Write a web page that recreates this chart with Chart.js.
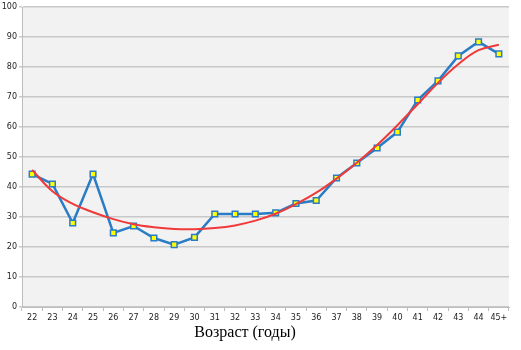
<!DOCTYPE html>
<html>
<head>
<meta charset="utf-8">
<script src="https://cdn.jsdelivr.net/npm/chart.js@4/dist/chart.umd.min.js"></script>
<style>
  html, body { margin: 0; padding: 0; background: #fff; }
  #wrap { width: 521px; height: 350px; position: relative; }
</style>
</head>
<body>
<div id="wrap"><canvas id="ageChart"></canvas></div>
<script>
// age groups (x axis)
var ages = ['22', '23', '24', '25', '26', '27', '28', '29', '30', '31', '32', '33',
            '34', '35', '36', '37', '38', '39', '40', '41', '42', '43', '44', '45+'];
// observed values (blue line with markers)
var observed = [44.3, 41, 28, 44.3, 24.7, 27, 23, 20.8, 23.2, 31, 31, 31,
                31.4, 34.5, 35.5, 43, 48, 53, 58.3, 69, 75.4, 83.7, 88.4, 84.4];
// trend curve (red line)
var trend = [45.7, 38.6, 34.4, 31.6, 29.3, 27.6, 26.6, 26, 25.9, 26.3, 27.2, 28.8,
             31.1, 34.3, 38.1, 42.8, 48.1, 54, 60.6, 67.6, 74.7, 80.9, 85.6, 87.4];
var yTicks = [0, 10, 20, 30, 40, 50, 60, 70, 80, 90, 100];
var xTitle = 'Возраст (годы)';

var plotBg = {
  id: 'plotBg',
  beforeDraw: function (chart) {
    var a = chart.chartArea, ctx = chart.ctx;
    ctx.save();
    ctx.fillStyle = '#f2f2f2';
    ctx.fillRect(a.left, a.top, a.right - a.left, a.bottom - a.top);
    ctx.restore();
  },
  afterDraw: function (chart) {
    var ctx = chart.ctx;
    ctx.save();
    ctx.font = '16px "Liberation Serif", "Times New Roman", serif';
    ctx.fillStyle = '#000';
    ctx.textAlign = 'center';
    ctx.textBaseline = 'middle';
    ctx.fillText(xTitle, 245, 333);
    ctx.restore();
  }
};

var tickFont = { family: 'Verdana, "DejaVu Sans", sans-serif', size: 8, weight: 'normal' };

new Chart(document.getElementById('ageChart').getContext('2d'), {
  type: 'line',
  data: {
    labels: ages,
    datasets: [{
      label: 'trend',
      data: trend,
      borderColor: '#f03a3a',
      borderWidth: 2,
      pointRadius: 0,
      tension: 0.4,
      order: 0
    }, {
      label: 'observed',
      data: observed,
      borderColor: '#2a7cc4',
      borderWidth: 2.5,
      backgroundColor: '#ffff00',
      pointStyle: 'rect',
      pointRadius: 4,
      pointBorderWidth: 1.5,
      pointBorderColor: '#2a7cc4',
      pointBackgroundColor: '#ffff00',
      tension: 0,
      order: 1
    }]
  },
  plugins: [plotBg],
  options: {
    responsive: true,
    maintainAspectRatio: false,
    animation: false,
    layout: { padding: { top: 7, right: 12, left: 0, bottom: 0 } },
    plugins: { legend: { display: false }, tooltip: { enabled: false } },
    scales: {
      x: {
        offset: true,
        grid: { display: true, drawOnChartArea: false, color: '#bdbdbd', tickLength: 4, offset: true },
        border: { color: '#bdbdbd', width: 1 },
        ticks: { font: tickFont, color: '#222', padding: 2, maxRotation: 0, autoSkip: false },
        afterFit: function (s) { s.height = 43; }
      },
      y: {
        min: 0,
        max: 100,
        afterBuildTicks: function (s) { s.ticks = yTicks.map(function (v) { return { value: v }; }); },
        grid: { color: '#c8c8c8', lineWidth: 1.5, tickLength: 3 },
        border: { color: '#bdbdbd', width: 1 },
        ticks: { font: tickFont, color: '#222', padding: 2 },
        afterFit: function (s) { s.width = 22; }
      }
    }
  }
});
</script>
</body>
</html>
